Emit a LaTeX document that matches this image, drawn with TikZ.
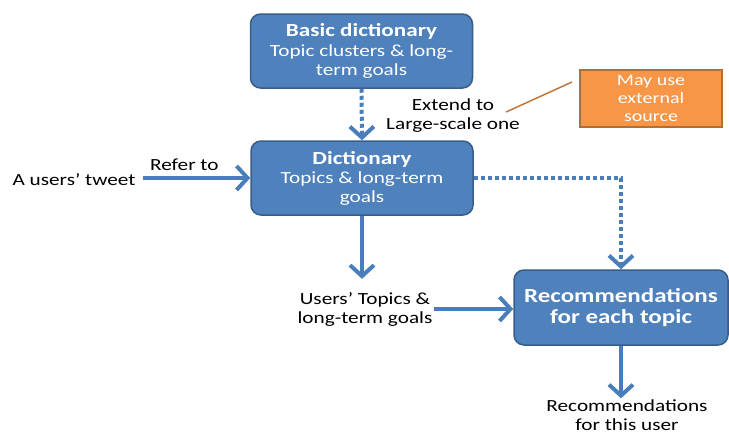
\documentclass[tikz,border=0pt]{standalone}
\usepackage{fontspec}
\setmainfont{Carlito}[FakeStretch=1.25]
\usetikzlibrary{arrows.meta}
\definecolor{boxblue}{HTML}{4F81BD}
\definecolor{boxedge}{HTML}{385D8A}
\definecolor{flowblue}{HTML}{4A7EBB}
\definecolor{boxorange}{HTML}{F79646}
\definecolor{orangeedge}{HTML}{B66D31}
\definecolor{calloutline}{HTML}{C0763A}
\newcommand{\bodysize}{\fontsize{17}{19}\selectfont}
\newcommand{\titlesize}{\fontsize{18.5}{20}\selectfont}
\newcommand{\recsize}{\fontsize{20}{21}\selectfont}

\begin{document}
\begin{tikzpicture}[x=1pt,y=-1pt,
  bluebox/.style={draw=boxedge, fill=boxblue, line width=1.5pt, rounded corners=10pt, text=white, align=center, inner sep=0pt, minimum width=222pt, minimum height=74pt, font=\bodysize},
  plain/.style={align=center, inner sep=1pt, font=\bodysize},
  flow/.style={draw=flowblue, line width=4pt, -{Straight Barb[length=11pt,width=24pt]}},
  dots/.style={flow, dash pattern=on 4pt off 3pt},
]
\useasboundingbox (0,0) rectangle (729,437);

\node[bluebox] (basic) at (361.5,51) {{\bfseries\titlesize Basic dictionary}\\[1pt]Topic clusters \& long-\\term goals};
\node[bluebox] (dict) at (362,178) {{\bfseries\titlesize Dictionary}\\Topics \& long-term\\goals};
\node[bluebox, minimum width=214pt, minimum height=75pt, font=\recsize\bfseries] (rec) at (621,307.5) {Recommendations\\for each topic};

\node[draw=orangeedge, fill=boxorange, line width=1.5pt, text=white, align=center, inner sep=0pt, minimum width=142pt, minimum height=57pt, font=\fontsize{16}{18}\selectfont] (source) at (651,98.5) {May use\\external\\source};

\node[plain] (tweet) at (74,180) {A users' tweet};
\node[plain] (extend) at (453,116) {Extend to\\Large-scale one};
\node[plain] (users) at (365,309) {Users' Topics \&\\long-term goals};
\node[plain] (foruser) at (627,415) {Recommendations\\for this user};

\draw[dots] (basic.south) -- (dict.north); % extend
\draw[flow, shorten <=6pt] (tweet.east |- dict.west) -- (dict.west) node[pos=0.42, above=2pt, font=\bodysize, black] {Refer to};
\draw[dots] (dict.east) -| (rec.north);
\draw[flow, shorten >=12pt] (dict.south) -- (dict.south |- users.north);
\draw[flow] (users.east) -- (users.east -| rec.west);
\draw[flow] (rec.south) -- (rec.south |- foruser.north);

% callout
\coordinate (c1) at (506,112);
\coordinate (c2) at (572,82);
\draw[calloutline, line width=1.5pt] (c1) -- (c2);

\end{tikzpicture}
\end{document}
